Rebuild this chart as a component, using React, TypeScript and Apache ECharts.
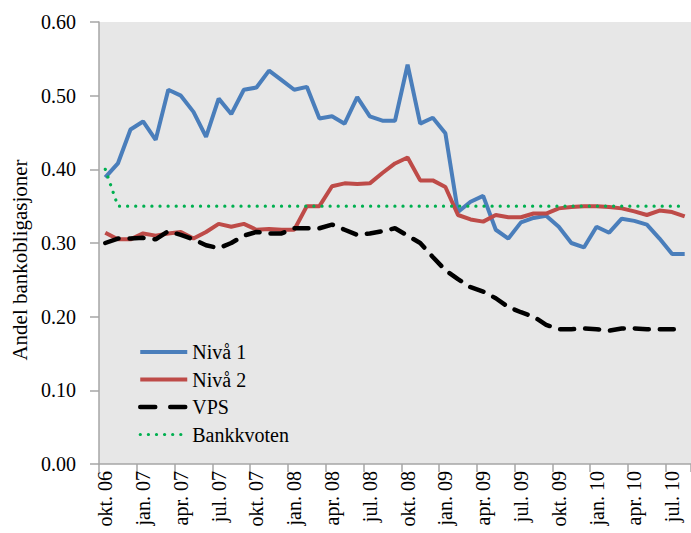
import React, { useEffect, useRef } from "react";
import * as echarts from "echarts";

const categories = [
  "okt. 06", "nov. 06", "des. 06",
  "jan. 07", "feb. 07", "mar. 07", "apr. 07", "mai 07", "jun. 07",
  "jul. 07", "aug. 07", "sep. 07", "okt. 07", "nov. 07", "des. 07",
  "jan. 08", "feb. 08", "mar. 08", "apr. 08", "mai 08", "jun. 08",
  "jul. 08", "aug. 08", "sep. 08", "okt. 08", "nov. 08", "des. 08",
  "jan. 09", "feb. 09", "mar. 09", "apr. 09", "mai 09", "jun. 09",
  "jul. 09", "aug. 09", "sep. 09", "okt. 09", "nov. 09", "des. 09",
  "jan. 10", "feb. 10", "mar. 10", "apr. 10", "mai 10", "jun. 10",
  "jul. 10", "aug. 10",
];

const niva1 = [
  0.389, 0.408, 0.454, 0.465, 0.44, 0.508, 0.5, 0.478, 0.444, 0.496,
  0.475, 0.508, 0.511, 0.534, 0.521, 0.508, 0.512, 0.469, 0.472, 0.462,
  0.498, 0.472, 0.466, 0.466, 0.542, 0.462, 0.47, 0.449, 0.342, 0.356,
  0.364, 0.318, 0.306, 0.328, 0.334, 0.337, 0.322, 0.3, 0.294, 0.322,
  0.314, 0.333, 0.33, 0.325, 0.306, 0.285, 0.285,
];

const niva2 = [
  0.314, 0.305, 0.305, 0.313, 0.31, 0.313, 0.315, 0.306, 0.315, 0.326,
  0.322, 0.326, 0.318, 0.319, 0.318, 0.318, 0.35, 0.35, 0.377, 0.381,
  0.38, 0.381, 0.395, 0.408, 0.416, 0.385, 0.385, 0.376, 0.338, 0.332,
  0.329, 0.338, 0.335, 0.335, 0.34, 0.34, 0.347, 0.349, 0.35, 0.35,
  0.349, 0.347, 0.343, 0.338, 0.344, 0.342, 0.336,
];

const vps = [
  0.3, 0.306, 0.306, 0.307, 0.305, 0.316, 0.311, 0.305, 0.297, 0.293,
  0.3, 0.31, 0.315, 0.313, 0.313, 0.32, 0.32, 0.32, 0.325, 0.318,
  0.311, 0.313, 0.316, 0.32, 0.31, 0.3, 0.281, 0.263, 0.251, 0.24,
  0.234, 0.225, 0.213, 0.206, 0.2, 0.189, 0.183, 0.183, 0.184, 0.183,
  0.181, 0.184, 0.184, 0.183, 0.183, 0.183, 0.183,
];

const bankkvoten = [
  0.4, 0.35, 0.35, 0.35, 0.35, 0.35, 0.35, 0.35, 0.35, 0.35,
  0.35, 0.35, 0.35, 0.35, 0.35, 0.35, 0.35, 0.35, 0.35, 0.35,
  0.35, 0.35, 0.35, 0.35, 0.35, 0.35, 0.35, 0.35, 0.35, 0.35,
  0.35, 0.35, 0.35, 0.35, 0.35, 0.35, 0.35, 0.35, 0.35, 0.35,
  0.35, 0.35, 0.35, 0.35, 0.35, 0.35, 0.35,
];

const FONT = "Liberation Serif";

const BLUE = "#4a7ebb";
const RED = "#be4b48";
const BLACK = "#000000";
const GREEN = "#00b050";

export default function App() {
  const ref = useRef<HTMLDivElement>(null);

  useEffect(() => {
    if (!ref.current) return;
    const chart = echarts.init(ref.current, undefined, { renderer: "svg" });
    const blueLine = { color: BLUE, width: 4 };
    const redLine = { color: RED, width: 4 };
    const blackLine = { color: BLACK, width: 4.5, type: [14, 11], cap: "round" };
    const blackLegendLine = { color: BLACK, width: 4.5, type: [15, 15], cap: "round" };
    const greenLine = { color: GREEN, width: 3.2, type: [0.1, 8], cap: "round" };
    chart.setOption({
      animation: false,
      backgroundColor: "#ffffff",
      textStyle: { fontFamily: FONT, color: "#000" },
      grid: {
        left: 99,
        top: 22,
        width: 598,
        height: 442,
        show: true,
        backgroundColor: "#e7e7e7",
        borderWidth: 0,
      },
      legend: {
        orient: "vertical",
        left: 133,
        top: 337,
        itemWidth: 47,
        itemHeight: 14,
        itemGap: 7.5,
        itemStyle: { opacity: 0, borderWidth: 0 },
        textStyle: { fontFamily: FONT, fontSize: 20, color: "#000", lineHeight: 20 },
        data: [
          { name: "Nivå 1", lineStyle: blueLine },
          { name: "Nivå 2", lineStyle: redLine },
          { name: "VPS", lineStyle: blackLegendLine },
          { name: "Bankkvoten", lineStyle: greenLine },
        ],
      },
      graphic: [
        {
          type: "text",
          x: 20,
          y: 260,
          rotation: Math.PI / 2,
          style: {
            text: "Andel bankobligasjoner",
            fontFamily: FONT,
            fontSize: 21,
            fill: "#000",
            align: "center",
            verticalAlign: "middle",
          },
        },
      ],
      xAxis: {
        type: "category",
        data: categories,
        boundaryGap: true,
        axisLine: { lineStyle: { color: "#a6a6a6", width: 1.5 } },
        axisTick: {
          show: true,
          interval: 2,
          alignWithLabel: false,
          length: 8,
          lineStyle: { color: "#a6a6a6", width: 1.5 },
        },
        axisLabel: {
          interval: 2,
          rotate: 90,
          margin: 7,
          fontFamily: FONT,
          fontSize: 20,
          color: "#000",
        },
        splitLine: { show: false },
      },
      yAxis: {
        type: "value",
        min: 0,
        max: 0.6,
        interval: 0.1,
        axisLine: { show: true, lineStyle: { color: "#a6a6a6", width: 1.5 } },
        axisTick: { show: true, length: 9, lineStyle: { color: "#a6a6a6", width: 1.5 } },
        axisLabel: {
          margin: 23,
          fontFamily: FONT,
          fontSize: 20,
          color: "#000",
          formatter: (v: number) => v.toFixed(2),
        },
        splitLine: { show: false },
      },
      series: [
        {
          name: "Nivå 1",
          type: "line",
          data: niva1,
          symbol: "none",
          lineStyle: blueLine,
          itemStyle: { color: BLUE },
        },
        {
          name: "Nivå 2",
          type: "line",
          data: niva2,
          symbol: "none",
          lineStyle: redLine,
          itemStyle: { color: RED },
        },
        {
          name: "VPS",
          type: "line",
          data: vps,
          symbol: "none",
          lineStyle: blackLine,
          itemStyle: { color: BLACK },
        },
        {
          name: "Bankkvoten",
          type: "line",
          data: bankkvoten,
          symbol: "none",
          lineStyle: greenLine,
          itemStyle: { color: GREEN },
        },
      ],
    });
    return () => chart.dispose();
  }, []);

  return (
    <div
      ref={ref}
      style={{ position: "fixed", left: 0, top: 0, width: 691, height: 533 }}
    />
  );
}
